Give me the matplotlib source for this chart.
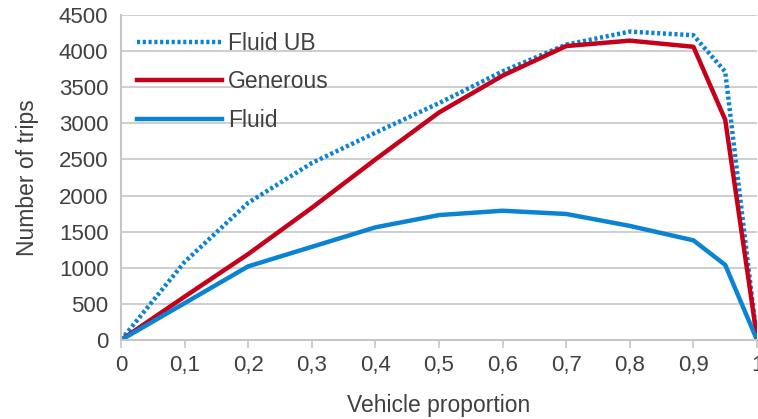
import numpy as np
import matplotlib.pyplot as plt
from matplotlib.ticker import FuncFormatter

plt.rcParams['font.family'] = ['Liberation Sans', 'DejaVu Sans']

# vehicle proportion and trips per scenario
proportion = [0, 0.1, 0.2, 0.3, 0.4, 0.5, 0.6, 0.7, 0.8, 0.9, 0.95, 1.0]
fluid_ub = [0, 1080, 1900, 2450, 2870, 3280, 3720, 4090, 4270, 4220, 3715, 0]
generous = [0, 600, 1190, 1830, 2500, 3150, 3660, 4070, 4145, 4060, 3050, 30]
fluid = [0, 510, 1020, 1290, 1560, 1730, 1790, 1745, 1580, 1380, 1040, 0]

blue = '#0A84D2'
red = '#C4001A'
grey = '#C6C6C6'
txt = '#404040'
fs = 16.5

fig = plt.figure(figsize=(7.58, 4.19), dpi=100)
ax = fig.add_axes([0.1596, 0.1885, 0.8391, 0.7757])

ax.plot(proportion, fluid_ub, color=blue, lw=3.2, linestyle=(0, (0.7, 0.6)),
        label='Fluid UB', solid_capstyle='butt', dash_capstyle='butt')
ax.plot(proportion, generous, color=red, lw=3.2, label='Generous')
ax.plot(proportion, fluid, color=blue, lw=3.2, label='Fluid')

ax.set_xlim(0, 1)
ax.set_ylim(0, 4500)
ax.set_xticks(np.arange(0, 1.01, 0.1))
ax.set_yticks(np.arange(0, 4501, 500))
ax.xaxis.set_major_formatter(FuncFormatter(
    lambda v, p: '0' if v == 0 else ('1' if abs(v - 1) < 1e-9 else f'{v:.1f}'.replace('.', ','))))

ax.grid(axis='y', color=grey, lw=1.2)
ax.set_axisbelow(True)
for s in ['top', 'right']:
    ax.spines[s].set_visible(False)
for s in ['left', 'bottom']:
    ax.spines[s].set_color(grey)
    ax.spines[s].set_linewidth(1.5)

ax.tick_params(axis='x', colors=grey, length=6, width=1.2, direction='out',
               labelcolor=txt, labelsize=fs - 0.5, pad=5)
ax.tick_params(axis='y', length=0, labelcolor=txt, labelsize=fs - 0.5, pad=9)

ax.set_xlabel('Vehicle proportion', fontsize=fs, color=txt, labelpad=13)
ax.set_ylabel('Number of trips', fontsize=fs, color=txt, labelpad=14)

ax.legend(loc='upper left', bbox_to_anchor=(-0.008, 1.012), frameon=False,
          fontsize=fs, handlelength=3.75, handletextpad=0.25, labelspacing=0.68,
          labelcolor=txt)

fig.savefig('out.png', dpi=100)
